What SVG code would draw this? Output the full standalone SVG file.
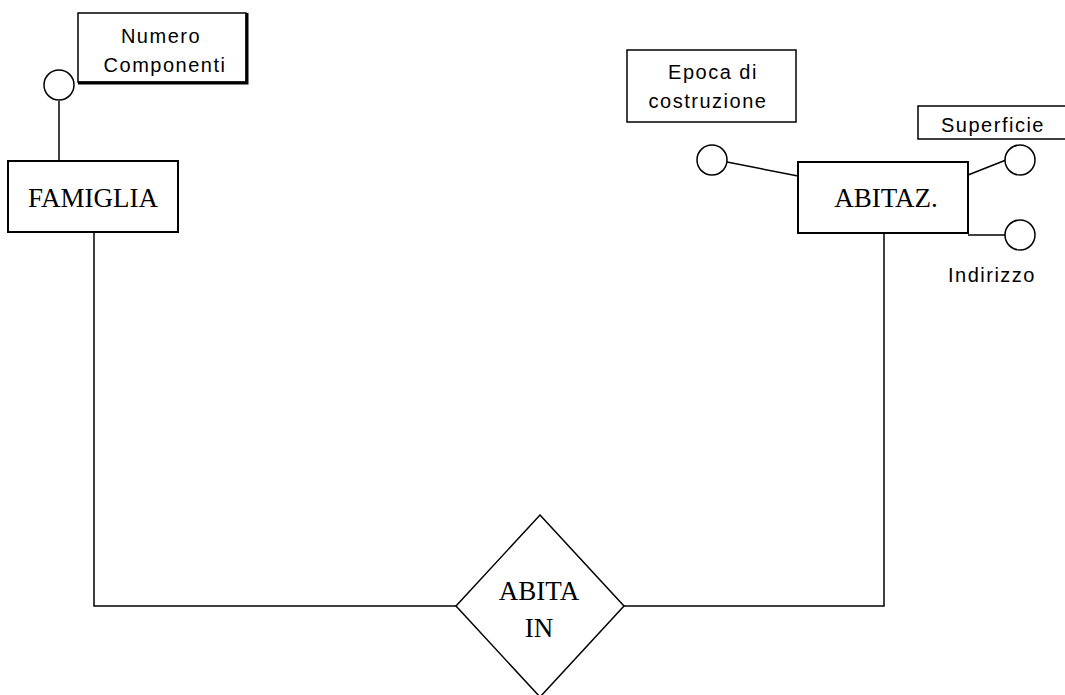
<svg xmlns="http://www.w3.org/2000/svg" width="1065" height="695" viewBox="0 0 1065 695">
<style>
.box{fill:#fff;stroke:#000;stroke-width:2}
.attr{fill:#fff;stroke:#000;stroke-width:1.5}
.sh{fill:none;stroke:#000;stroke-width:3}
.circ{fill:#fff;stroke:#000;stroke-width:1.5}
.ln{fill:none;stroke:#000;stroke-width:1.5}
.sans{font-family:"Liberation Sans",Arial,sans-serif;font-size:20px;letter-spacing:1.5px;fill:#000;text-anchor:middle}
.serif{font-family:"Liberation Serif","Times New Roman",serif;font-size:27px;fill:#000;text-anchor:middle}
</style>
<rect width="1065" height="695" fill="#fff"/>
<g id="connectors">
<line class="ln" x1="59" y1="101" x2="59" y2="161"/>
<polyline class="ln" points="94,233 94,606 456,606"/>
<polyline class="ln" points="624,606 884,606 884,233"/>
<line class="ln" x1="727" y1="162" x2="798" y2="176"/>
<line class="ln" x1="968" y1="175" x2="1006" y2="160"/>
<line class="ln" x1="968" y1="235" x2="1005" y2="235"/>
</g>
<g id="attr-numero">
<rect class="attr" x="78" y="13" width="168" height="69"/>
<polyline class="sh" points="247,13 247,83 78,83"/>
<text class="sans" x="161" y="43">Numero</text>
<text class="sans" x="165" y="72">Componenti</text>
<circle class="circ" cx="59" cy="85" r="15"/>
</g>
<g id="famiglia">
<rect class="box" x="8" y="161" width="170" height="71"/>
<text class="serif" x="93" y="207">FAMIGLIA</text>
</g>
<g id="attr-epoca">
<rect class="attr" x="627" y="50" width="169" height="72"/>
<text class="sans" x="713" y="79">Epoca di</text>
<text class="sans" x="708" y="108">costruzione</text>
<circle class="circ" cx="712" cy="160" r="15"/>
</g>
<g id="abitaz">
<rect class="box" x="798" y="162" width="170" height="71"/>
<text class="serif" x="886" y="207">ABITAZ.</text>
</g>
<g id="attr-superficie">
<rect class="attr" x="918" y="106" width="160" height="33"/>
<text class="sans" x="993" y="132">Superficie</text>
<circle class="circ" cx="1020" cy="160" r="15"/>
</g>
<g id="attr-indirizzo">
<circle class="circ" cx="1020" cy="235" r="15"/>
<text class="sans" x="992" y="282">Indirizzo</text>
</g>
<g id="abita-in">
<polygon class="attr" points="540,515 624,606 540,697 456,606"/>
<text class="serif" x="539" y="600">ABITA</text>
<text class="serif" x="539" y="637">IN</text>
</g>
</svg>
